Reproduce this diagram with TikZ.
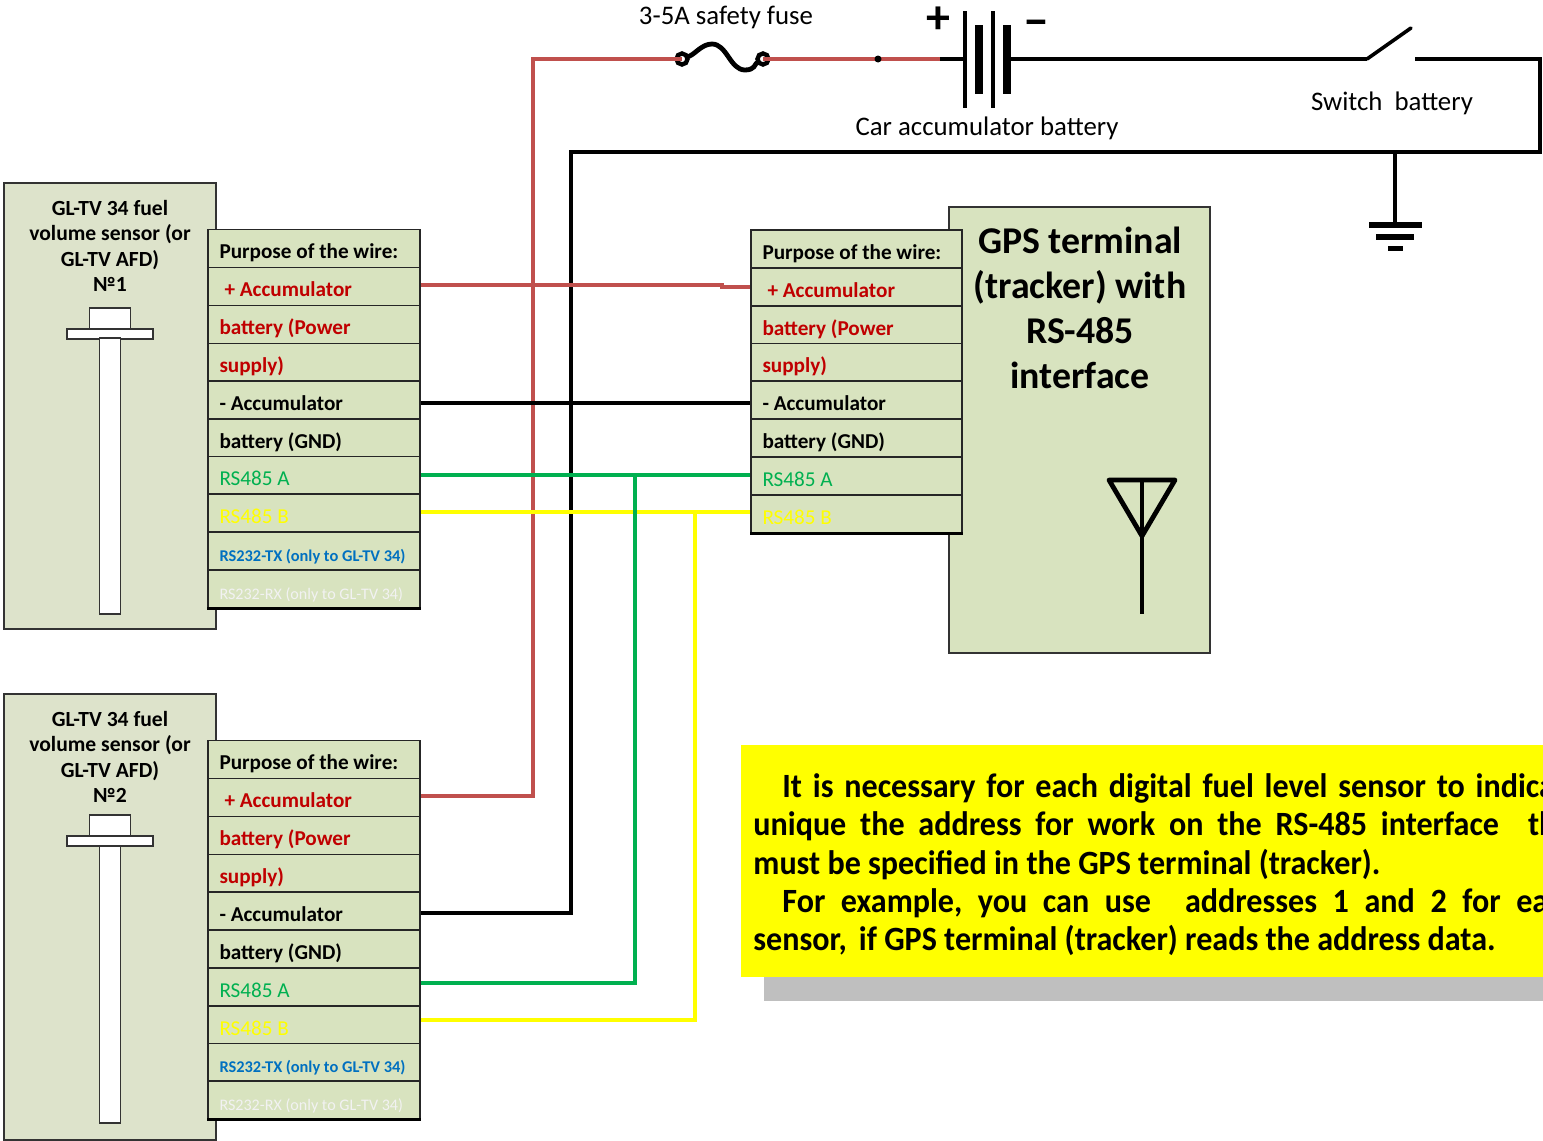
\documentclass[tikz,border=0pt]{standalone}
\usepackage{fontspec}
\setmainfont{Carlito}
\newfontfamily\notefont[FakeStretch=0.944]{Carlito Bold}
\usepackage{tikz}
\usetikzlibrary{positioning}
\definecolor{sensorgreen}{HTML}{DDE3CB}
\definecolor{rowgreen}{HTML}{D8E3BF}
\definecolor{wirered}{HTML}{C0504D}
\definecolor{textred}{HTML}{C00000}
\definecolor{wiregreen}{HTML}{00B050}
\definecolor{wireyellow}{HTML}{FFFF00}
\definecolor{textblue}{HTML}{0070C0}
\definecolor{shadowgray}{HTML}{BFBFBF}
\begin{document}
\begin{tikzpicture}[x=0.5pt,y=0.5pt]
\tikzstyle{every node}+=[inner sep=0pt]
\tikzstyle{sensorbox}=[draw=black!80,line width=0.6pt,fill=sensorgreen,minimum width=106pt,minimum height=223pt]
\tikzstyle{sensortext}=[align=flush center,font=\bfseries\fontsize{10.8}{12.8}\selectfont]
\tikzstyle{whitepart}=[draw=black!80,line width=0.6pt,fill=white]
\tikzstyle{wirerow}=[draw=black!85,line width=0.6pt,fill=rowgreen,minimum width=106pt,minimum height=19pt,text width=94.5pt,align=flush left,text height=11pt,text depth=1pt,font=\bfseries\fontsize{10.6}{12}\selectfont]
\tikzstyle{termrow}=[wirerow,minimum width=105.5pt,text width=94pt]
\tikzstyle{plainrow}=[font=\fontsize{10.6}{12}\selectfont]
\tikzstyle{smalltx}=[font=\bfseries\fontsize{8.2}{9}\selectfont,text=textblue]
\tikzstyle{smallrx}=[font=\fontsize{8.05}{9}\selectfont,text=white!95!black]
\tikzstyle{redwire}=[wirered,line width=1.8pt]
\tikzstyle{blackwire}=[black,line width=1.9pt]
\tikzstyle{greenwire}=[wiregreen,line width=1.7pt]
\tikzstyle{yellowwire}=[wireyellow,line width=1.7pt]
\tikzstyle{plate}=[fill=black,minimum width=1.7pt,minimum height=48.5pt]
\tikzstyle{thickplate}=[fill=black,minimum width=4pt,minimum height=34.5pt]
\tikzstyle{gndbar}=[fill=black]
\tikzstyle{terminal}=[circle,draw=black,line width=2.2pt,fill=white,minimum size=5.5pt]
\tikzstyle{noteline}=[anchor=base west,font=\notefont\fontsize{17}{19}\selectfont]
\useasboundingbox (0,0) rectangle (1543,-1141);
\clip (0,0) rectangle (1543,-1141);
% sensor 1
\node [sensorbox] (s1) at (110,-406) {};
\node [sensortext] (s1title) at (110,-246) {GL-TV 34 fuel\\volume sensor (or\\GL-TV AFD)\\№1};
\node [whitepart,minimum width=20.5pt,minimum height=10.5pt] (s1head) at (110,-318.5) {};
\node [whitepart,minimum width=43pt,minimum height=5pt] (s1flange) at (110,-334) {};
\node [whitepart,minimum width=10.5pt,minimum height=138pt] (s1shaft) at (110,-476) {};
\node [wirerow] (a0) at (314,-248.5) {Purpose of the wire:};
\node [wirerow,text=textred] (a1) at (314,-286.5) {\hspace{2.5pt}+ Accumulator};
\node [wirerow,text=textred] (a2) at (314,-324.5) {battery (Power};
\node [wirerow,text=textred] (a3) at (314,-362.5) {supply)};
\node [wirerow] (a4) at (314,-400) {- Accumulator};
\node [wirerow] (a5) at (314,-438) {battery (GND)};
\node [wirerow,plainrow,text=wiregreen] (a6) at (314,-475.5) {RS485 A};
\node [wirerow,plainrow,text=wireyellow] (a7) at (314,-513) {RS485 B};
\node [wirerow,smalltx] (a8) at (314,-551) {RS232-TX (only to GL-TV 34)};
\node [wirerow,smallrx] (a9) at (314,-589) {RS232-RX (only to GL-TV 34)};
\draw [black,line width=1.2pt] (a9.south west) -- (a9.south east);
% sensor 2
\node [sensorbox] (s2) at (110,-917) {};
\node [sensortext] (s2title) at (110,-757) {GL-TV 34 fuel\\volume sensor (or\\GL-TV AFD)\\№2};
\node [whitepart,minimum width=20.5pt,minimum height=10.5pt] (s2head) at (110,-825.5) {};
\node [whitepart,minimum width=43pt,minimum height=5pt] (s2flange) at (110,-841) {};
\node [whitepart,minimum width=10.5pt,minimum height=138.5pt] (s2shaft) at (110,-984.5) {};
\node [wirerow] (b0) at (314,-759.5) {Purpose of the wire:};
\node [wirerow,text=textred] (b1) at (314,-797.5) {\hspace{2.5pt}+ Accumulator};
\node [wirerow,text=textred] (b2) at (314,-835.5) {battery (Power};
\node [wirerow,text=textred] (b3) at (314,-873.5) {supply)};
\node [wirerow] (b4) at (314,-911) {- Accumulator};
\node [wirerow] (b5) at (314,-949) {battery (GND)};
\node [wirerow,plainrow,text=wiregreen] (b6) at (314,-987) {RS485 A};
\node [wirerow,plainrow,text=wireyellow] (b7) at (314,-1025) {RS485 B};
\node [wirerow,smalltx] (b8) at (314,-1062.5) {RS232-TX (only to GL-TV 34)};
\node [wirerow,smallrx] (b9) at (314,-1100) {RS232-RX (only to GL-TV 34)};
\draw [black,line width=1.2pt] (b9.south west) -- (b9.south east);
% terminal
\node [draw=black!80,line width=0.6pt,fill=rowgreen,minimum width=130.5pt,minimum height=223pt] (gps) at (1079.5,-430) {};
\node [align=flush center,font=\bfseries\fontsize{18.9}{22.5}\selectfont] (gpstitle) at (1080,-308) {GPS terminal\\(tracker) with\\RS-485\\interface};
\node [termrow] (t0) at (856.5,-249) {Purpose of the wire:};
\node [termrow,text=textred] (t1) at (856.5,-287) {\hspace{2.5pt}+ Accumulator};
\node [termrow,text=textred] (t2) at (856.5,-325) {battery (Power};
\node [termrow,text=textred] (t3) at (856.5,-362.5) {supply)};
\node [termrow] (t4) at (856.5,-400) {- Accumulator};
\node [termrow] (t5) at (856.5,-438) {battery (GND)};
\node [termrow,plainrow,text=wiregreen] (t6) at (856.5,-476) {RS485 A};
\node [termrow,plainrow,text=wireyellow] (t7) at (856.5,-514) {RS485 B};
\draw [black,line width=1.2pt] (t7.south west) -- (t7.south east);
\coordinate (anttop) at (1142,-480);
\coordinate (antleft) at (1109,-480);
\coordinate (antright) at (1175,-480);
\coordinate (antapex) at (1142,-536);
\coordinate (antfoot) at (1142,-614);
\draw [black,line width=2.4pt,line join=round] (antleft) -- (antright) -- (antapex) -- cycle;
\draw [black,line width=2.4pt] (anttop) -- (antfoot);
% note
\node [fill=shadowgray,minimum width=389.5pt,minimum height=12pt,anchor=south west] (noteshadow) at (764,-1001) {};
\node [fill=wireyellow,minimum width=401pt,minimum height=116pt,anchor=south west] (notebox) at (741,-977) {};
\node [noteline] (n1) at (782,-797) {\spaceskip=5.4pt It is necessary for each digital fuel level sensor to indica};
\node [noteline] (n2) at (753,-835) {\spaceskip=6.9pt unique the address for work on the RS-485 interface\hspace{14.5pt}th};
\node [noteline] (n3) at (753,-874) {must be specified in the GPS terminal (tracker).};
\node [noteline] (n4) at (782,-912) {\spaceskip=7.8pt For example, you can use\hspace{17pt}addresses 1 and 2 for ea};
\node [noteline] (n5) at (753,-950) {sensor,\hspace{6pt}if GPS terminal (tracker) reads the address data.};
% power part
\node [terminal] (fusea) at (682,-59) {};
\node [terminal] (fuseb) at (763,-59) {};
\draw [black,line width=2.4pt,line cap=round] (fusea) .. controls (695,-54) and (702,-44) .. (712,-44) .. controls (727,-44) and (730,-70) .. (745,-70) .. controls (755,-70) and (755,-64) .. (fuseb);
\node [plate] (bat1) at (965,-59) {};
\node [thickplate] (bat2) at (979,-59) {};
\node [plate] (bat3) at (993,-59) {};
\node [thickplate] (bat4) at (1007,-59) {};
\coordinate (batin) at (940,-59);
\coordinate (swstub) at (1342,-59);
\coordinate (swa) at (1367,-59);
\coordinate (swtip) at (1411,-28);
\coordinate (swb) at (1415,-59);
\coordinate (topright) at (1540,-59);
\coordinate (lowright) at (1540,-152);
\coordinate (gndtop) at (1395,-152);
\coordinate (buscorner) at (571,-152);
\coordinate (buslow) at (571,-913);
\coordinate (redtop) at (533,-59);
\coordinate (redlow) at (533,-796);
\coordinate (greenup) at (635,-475);
\coordinate (greenlow) at (635,-983);
\coordinate (yellowup) at (695,-512);
\coordinate (yellowlow) at (695,-1020);
\coordinate (redbenda) at (722,-285);
\coordinate (redbendb) at (722,-287);
\node [gndbar,minimum width=26.5pt,minimum height=2.8pt] (gnd1) at (1395,-225) {};
\node [gndbar,minimum width=19pt,minimum height=2.8pt] (gnd2) at (1395,-237) {};
\node [gndbar,minimum width=7.5pt,minimum height=2.5pt] (gnd3) at (1395,-248) {};
% wires
\draw [blackwire,line width=1.6pt] (batin) -- (bat1);
\draw [blackwire,line width=1.6pt] (bat4) -- (swstub);
\draw [blackwire,line width=2pt] (swstub) -- (swa);
\draw [blackwire,line cap=round,line width=1.8pt] (swa) -- (swtip);
\draw [blackwire,line join=miter] (swb) -- (topright) -- (lowright) -- (buscorner) -- (buslow) -- ([yshift=-1pt]b4.east);
\draw [blackwire] (gndtop) -- (gnd1);
\draw [redwire] ([yshift=0.75pt]b1.east) -- (redlow) -- (redtop) -- (fusea.center);
\draw [redwire] (fuseb.center) -- (batin);
\node [circle,fill=black,minimum size=3.5pt] (fusedot) at (878,-59) {};
\draw [redwire] ([yshift=0.75pt]a1.east) -- (redbenda) -- (redbendb) -- (t1.west);
\draw [blackwire] ([yshift=-1.5pt]a4.east) -- ([yshift=-1.5pt]t4.west);
\draw [greenwire] ([yshift=0.25pt]a6.east) -- ([yshift=0.5pt]t6.west);
\draw [yellowwire] ([yshift=0.5pt]a7.east) -- ([yshift=1pt]t7.west);
\draw [greenwire] (greenup) -- (greenlow) -- ([yshift=2pt]b6.east);
\draw [yellowwire] (yellowup) -- (yellowlow) -- ([yshift=2.5pt]b7.east);
% labels
\node [font=\fontsize{13.4}{15}\selectfont] (fuselabel) at (726,-17) {3-5A safety fuse};
\node [font=\fontsize{13.4}{15}\selectfont] (batlabel) at (987,-128) {Car accumulator battery};
\node [font=\fontsize{13.4}{15}\selectfont] (swlabel) at (1392,-103) {Switch\hspace{3pt} battery};
\node [font=\bfseries\fontsize{24}{24}\selectfont] (pluslabel) at (938,-20) {+};
\node [font=\bfseries\fontsize{24}{24}\selectfont] (minuslabel) at (1036,-29) {−};
\end{tikzpicture}
\end{document}
